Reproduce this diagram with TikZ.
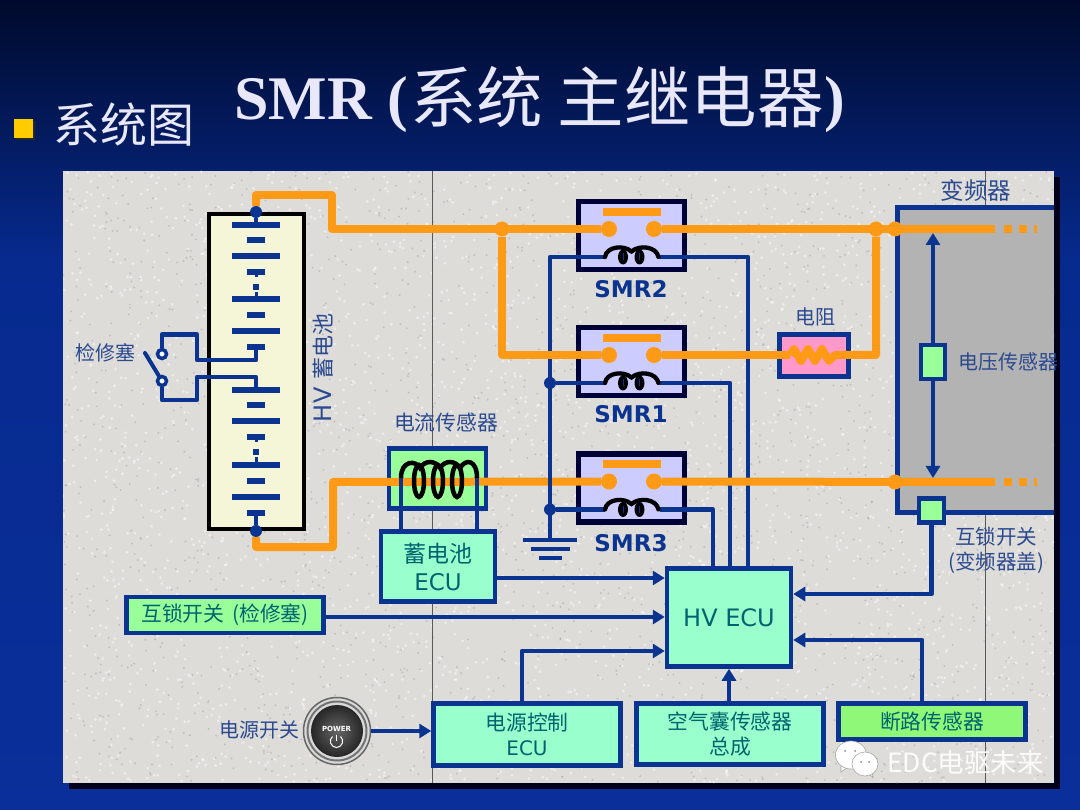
\documentclass[tikz,border=0pt]{standalone}
\usepackage{fontspec}
\setmainfont{Liberation Serif}
\newfontfamily\cjk{Noto Sans CJK SC}
\newfontfamily\dvs{DejaVu Sans}
\usetikzlibrary{arrows.meta,shapes.geometric}
\definecolor{bgtop}{HTML}{000A2C}
\definecolor{bgmid}{HTML}{062A8E}
\definecolor{bgbot}{HTML}{0A2F9A}
\definecolor{panelc}{HTML}{DEDCD9}
\definecolor{wire}{HTML}{0B3390}
\definecolor{orng}{HTML}{FF9A16}
\definecolor{relayf}{HTML}{CCCCFF}
\definecolor{relayb}{HTML}{000038}
\definecolor{grn}{HTML}{99FF99}
\definecolor{aqua}{HTML}{99FFCC}
\definecolor{lime}{HTML}{90F878}
\definecolor{lbl}{HTML}{2C4A90}
\definecolor{teal2}{HTML}{006470}
\definecolor{titlec}{HTML}{E8E8FA}
\tikzset{
  x=1pt,y=-1pt,
  lab/.style={text=lbl,font=\cjk\fontsize{20}{24}\selectfont,inner sep=0pt},
  boxtxt/.style={text=teal2,font=\cjk\fontsize{20.8}{25}\selectfont,align=center,inner sep=0pt},
  bluebox/.style={draw=wire,line width=4.5pt,inner sep=0pt,anchor=center},
  wireln/.style={draw=wire,line width=4.8pt,line join=round},
  thinw/.style={draw=wire,line width=4.3pt,line join=round},
  arrowln/.style={wireln,-{Triangle[length=12pt,width=14pt]}},
  orangeln/.style={draw=orng,line width=8pt,line join=round},
  odot/.style={circle,fill=orng,inner sep=0pt,minimum size=15pt},
  bdot/.style={circle,fill=wire,inner sep=0pt,minimum size=12pt},
  cdot/.style={circle,fill=orng,inner sep=0pt,minimum size=16pt},
  longbar/.style={wire,line width=6.5pt},
  shortbar/.style={wire,line width=6.5pt},
  relay/.pic={
    \node[draw=relayb,fill=relayf,line width=5.5pt,minimum width=106pt,minimum height=68pt,inner sep=0pt] (-box) at (0,0) {};
    \draw[orng,line width=8pt] (-29,-23.5) -- (29.5,-23.5);
    \coordinate (-cl) at (-26.5,21.5);
    \coordinate (-cr) at (28.5,21.5);
    \node[cdot] (-a) at (-22.5,-6.5) {};
    \node[cdot] (-b) at (22.5,-6.5) {};
  },
  relaycoil/.pic={
    \draw[black,line width=4.3pt,line cap=round] (-26.5,21.5) .. controls (-25,11) and (-8,9) .. (0,16) .. controls (8,9) and (25,11) .. (27,21.5);
    \fill[black] (-8.5,21.5) ellipse[x radius=5,y radius=7.5];
    \fill[black] (8,21.5) ellipse[x radius=5,y radius=7.5];
    \draw[wire,line width=1pt] (-8.5,18) -- (-8.5,25);
    \draw[wire,line width=1pt] (8,18) -- (8,25);
  }
}
\begin{document}
\begin{tikzpicture}
\useasboundingbox (0,0) rectangle (1080,810);
% backdrop
\fill[bgbot] (0,0) rectangle (1080,810);
\shade[top color=bgmid,bottom color=bgbot] (0,259) rectangle (1080,810);
\shade[top color=bgtop,bottom color=bgmid] (0,0) rectangle (1080,260);
\fill[black!90!blue] (69,177) rectangle (1060,789);
\fill[panelc] (63,171) rectangle (1054,783);
\begin{scope}
\clip (63,171) rectangle (1054,783);
\pgfmathsetseed{42}
\foreach \k in {1,...,10} {
  \fill[white,opacity=.5] foreach \i in {1,...,300} { ({63+991*rnd},{171+612*rnd}) circle[radius=1.5] };
  \fill[black!50,opacity=.3] foreach \i in {1,...,200} { ({63+991*rnd},{171+612*rnd}) circle[radius=1.1] };
}
\end{scope}
\draw[black!65,line width=.8pt] (432,171) -- (432,783);
\draw[black!65,line width=.8pt] (985,171) -- (985,783);

% titles
\node[text=titlec,inner sep=0pt,anchor=west] (title) at (234,100) {\fontsize{62}{70}\selectfont\bfseries SMR (\hspace{2pt}\raisebox{-3pt}{\cjk\mdseries\fontsize{66.5}{70}\selectfont 系统 主继电器})};
\fill[black!85] (16,121) rectangle (35,140);
\node[fill={rgb,255:red,255;green,204;blue,0},minimum size=19pt,inner sep=0pt] (bullet) at (23.5,128.5) {};
\node[text=titlec,inner sep=0pt,anchor=west,font=\cjk\fontsize{47}{50}\selectfont] (sub) at (53,125) {系统图};

% inverter
\draw[wire,line width=5pt,fill={rgb,255:red,179;green,179;blue,179}] (1054,207.5) -- (897,207.5) -- (897,512) -- (1054,512);
\node[lab,font=\cjk\fontsize{23.5}{26}\selectfont] (invlab) at (976,191) {变频器};

% battery
\node[draw=black,fill={rgb,255:red,245;green,245;blue,216},line width=4.5pt,minimum width=95pt,minimum height=315pt,inner sep=0pt] (bat) at (256.5,371.5) {};
\node[bdot] (batT) at (256,212) {};
\node[bdot] (batB) at (256,531) {};
\foreach \y in {225,256,299,331,390,421,465,497} \draw[longbar] (232,\y) -- (280,\y);
\foreach \y in {240,272,315,347,405,437,481,513} \draw[shortbar] (247,\y) -- (265,\y);
\foreach \y in {287,452} \fill[wire] (253,\y-3) rectangle (259,\y+3);
\draw[wire,line width=3pt] (256,272) -- (256,277);
\draw[wire,line width=3pt] (256,292) -- (256,299);
\draw[wire,line width=3pt] (256,437) -- (256,442);
\draw[wire,line width=3pt] (256,457) -- (256,465);
\draw[wire,line width=4pt] (batT) -- (256,225);
\draw[wire,line width=4pt] (256,513) -- (batB);

% service plug
\node[lab] (plug) at (105,353) {检修塞};
\node[circle,draw=wire,fill=white,line width=3.5pt,minimum size=9pt,inner sep=0pt] (pA) at (162,354) {};
\node[circle,draw=wire,fill=white,line width=3.5pt,minimum size=9pt,inner sep=0pt] (pB) at (162,381) {};
\coordinate (blade) at (145,353);
\draw[wire,line width=4pt,line cap=round] (blade) -- (pB);
\draw[thinw] (256,347) -- (256,360) -- (197,360) -- (197,334.5) -- (162,334.5) -- (pA);
\draw[thinw] (256,390) -- (256,377) -- (197,377) -- (197,400) -- (162,400) -- (pB);
\node[lab,rotate=90,font=\dvs\fontsize{24}{26}\selectfont] (hvb) at (323,368) {HV {\cjk\fontsize{22}{24}\selectfont 蓄电池}};

% relays
\pic (sb) at (631.5,235.5) {relay};
\pic (sa) at (631.5,361.5) {relay};
\pic (sc) at (631.5,488) {relay};
\foreach \n/\y/\t in {lb2/289/SMR2,lb1/414/SMR1,lb3/543/SMR3}
  \node[text=wire,font=\dvs\bfseries\fontsize{23}{25}\selectfont,inner sep=0pt] (\n) at (631,\y) {\t};

% HV ECU and other boxes
\node[bluebox,fill=aqua,minimum width=124pt,minimum height=98pt,text=teal2,font=\dvs\fontsize{24}{26}\selectfont] (hv) at (729,617.5) {HV ECU};
\node[bluebox,fill=aqua,minimum width=114pt,minimum height=70pt,boxtxt,font=\cjk\fontsize{23}{28}\selectfont] (becu) at (438,566.5) {蓄电池\\{\dvs\fontsize{23}{28}\selectfont ECU}};
\node[bluebox,fill=grn,minimum width=197pt,minimum height=36pt,boxtxt] (ilk) at (225,615) {互锁开关\hspace{3pt} (检修塞)};
\node[bluebox,fill=aqua,minimum width=187pt,minimum height=62pt,boxtxt] (pecu) at (527,734.5) {电源控制\\{\dvs\fontsize{20}{25}\selectfont ECU}};
\node[bluebox,fill=aqua,minimum width=187pt,minimum height=61pt,boxtxt] (air) at (730,734) {空气囊传感器\\总成};
\node[bluebox,fill=lime,minimum width=187pt,minimum height=36pt,boxtxt] (brk) at (932,721.5) {断路传感器};

% relay wiring
\coordinate (gnd) at (550,540);
\draw[wireln] (sb-cl) -- (550,257) -- (gnd);
\draw[thinw] (sb-cr) -- (748,257) -- (748,567);
\draw[thinw] (sa-cr) -- (730,383) -- (730,567);
\draw[thinw] (sc-cr) -- (713,509.5) -- (713,567);
\node[bdot] (ja) at (550,383) {};
\node[bdot] (jc) at (550,509.5) {};
\draw[thinw] (ja) -- (sa-cl);
\draw[thinw] (jc) -- (sc-cl);
\draw[wire,line width=4.5pt] (523,540) -- (577,540);
\draw[wire,line width=4.5pt] (531,549) -- (570,549);
\draw[wire,line width=4.5pt] (539,558) -- (562,558);

% resistor
\node[bluebox,fill={rgb,255:red,255;green,153;blue,204},minimum width=69pt,minimum height=42pt] (res) at (814,355.5) {};
\node[lab] (reslab) at (815,317) {电阻};

% current sensor
\node[bluebox,fill=grn,minimum width=97pt,minimum height=60pt] (cs) at (437.5,478.5) {};
\node[lab,font=\cjk\fontsize{20.8}{24}\selectfont] (cslab) at (446,423) {电流传感器};

% voltage sensor and interlock
\node[bluebox,fill=grn,minimum width=24pt,minimum height=34pt] (vs) at (933,362) {};
\node[lab] (vslab) at (1008,362) {电压传感器};
\node[bluebox,fill=grn,minimum width=25pt,minimum height=24pt] (ci) at (931.5,510.5) {};
\node[lab,align=center,font=\cjk\fontsize{20.5}{25}\selectfont] (cilab) at (996,550) {互锁开关\\(变频器盖)};

% orange power lines
\node[odot] (j1) at (502,229) {};
\node[odot] (j2) at (876,229) {};
\node[odot] (j3) at (895,229) {};
\node[odot] (j4) at (895,482) {};
\coordinate (e1) at (995,229);
\coordinate (d1) at (1004,229);
\coordinate (f1) at (1037,229);
\coordinate (e2) at (995,482);
\coordinate (d2) at (1004,482);
\coordinate (f2) at (1037,482);
\coordinate (r1) at (790,355);
\draw[orangeln] (batT) -- (256,195) -- (332,195) -- (332,229) -- (sb-a);
\draw[orangeln] (sb-b) -- (e1);
\draw[orangeln,dash pattern=on 8pt off 7pt] (d1) -- (f1);
\draw[orangeln] (j1) -- (502,355) -- (sa-a);
\draw[orangeln] (sa-b) -- (r1);
\draw[orangeln] (batB) -- (256,547) -- (333,547) -- (333,482) -- (sc-a);
\draw[orangeln] (sc-b) -- (e2);
\draw[orangeln,dash pattern=on 8pt off 7pt] (d2) -- (f2);
\draw[orangeln] (r1) -- (794,349) -- (801,361) -- (808,349) -- (815,361) -- (822,349) -- (829,361) -- (835,355) -- (876,355) -- (j2);

% items above the power lines
\draw[wire,line width=4.8pt] (550,472) -- (550,492);
\draw[wireln] (401,475) -- (401,530);
\draw[wireln] (477,475) -- (477,530);
\draw[black,line width=4.5pt] (401,478) .. controls (401,460) and (416,460) .. (420,468) .. controls (425,460) and (435,460) .. (440,468) .. controls (445,460) and (455,460) .. (460,468) .. controls (466,458) and (477,460) .. (477,478);
\foreach \x in {419,438,457} \draw[black,line width=4.5pt] (\x,481) ellipse[x radius=5,y radius=16];
\pic at (631.5,235.5) {relaycoil};
\pic at (631.5,361.5) {relaycoil};
\pic at (631.5,488) {relaycoil};

% voltage sensing
\draw[arrowln] (vs) -- (933,233);
\draw[arrowln] (vs) -- (933,478);

% signals to the HV ECU
\draw[arrowln] (becu.east |- 0,578) -- (hv.west |- 0,578);
\draw[arrowln] (ilk.east |- 0,617) -- (hv.west |- 0,617);
\draw[arrowln] (522,702) -- (522,651) -- (hv.west |- 0,651);
\draw[arrowln] (air.north -| 729,0) -- (hv.south -| 729,0);
\draw[arrowln] (922,702) -- (922,640) -- (hv.east |- 0,640);
\draw[arrowln] (ci) -- (931.5,594) -- (hv.east |- 0,594);

% power switch
\node[lab] (pwlab) at (259,730) {电源开关};
\node[circle,inner sep=0pt,minimum size=67pt,draw=black!60,line width=1.5pt,fill=white!85!black] (pw) at (337,731) {};
\draw[black!55,line width=2pt] (337,731) circle[radius=29.5];
\node[circle,inner sep=0pt,minimum size=52pt,inner color=black!60,outer color=black!85] (pwi) at (337,731) {};
\node[text=white,font=\dvs\bfseries\fontsize{7}{8}\selectfont,inner sep=0pt] (pwt) at (336.5,728.5) {POWER};
\draw[white,line width=1pt] (332.5,736.5) .. controls (328,740) and (331,747.5) .. (336.5,747.5) .. controls (342,747.5) and (345,740) .. (340.5,736.5);
\draw[white,line width=1pt] (336.5,734.5) -- (336.5,741);
\draw[arrowln] (pw) -- (pecu.west |- pw);

% watermark
\filldraw[fill=white,draw=black!35,line width=.6pt] (841,764) -- (841,772) -- (848,767) -- cycle;
\filldraw[fill=white,draw=black!35,line width=.6pt] (851,755) ellipse[x radius=15.5,y radius=14];
\filldraw[fill=white,draw=black!35,line width=.6pt] (872,772) -- (873,777) -- (866,773) -- cycle;
\filldraw[fill=white,draw=black!35,line width=.6pt] (865,764) ellipse[x radius=13,y radius=12];
\fill[black!45] (861,762) circle[radius=1] (869,762) circle[radius=1] (845,751) circle[radius=1] (855,751) circle[radius=1];
\node[text=white,opacity=.9,inner sep=0pt,anchor=west,font=\cjk\fontsize{26.5}{28}\selectfont] (wm) at (887,762) {EDC电驱未来};
\end{tikzpicture}
\end{document}
